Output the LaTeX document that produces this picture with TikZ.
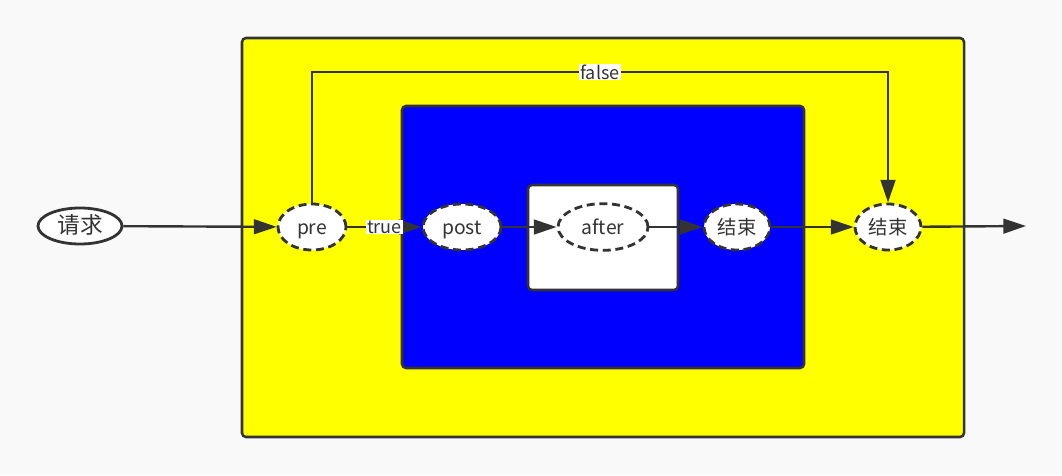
\documentclass[tikz,border=0pt]{standalone}
\usepackage{fontspec}
\setmainfont{Noto Sans CJK SC}
\usetikzlibrary{arrows.meta,shapes.geometric}
\definecolor{ink}{HTML}{333333}
\definecolor{bg}{HTML}{F9F9F9}
\definecolor{ylw}{HTML}{FFFF00}
\definecolor{blu}{HTML}{0000FF}
\tikzset{
  box/.style={draw=ink, line width=1.9pt, rounded corners=3pt, inner sep=0pt},
  ov/.style={ellipse, draw=ink, line width=2.1pt, fill=white, inner sep=0pt, text=ink, font=\fontsize{14.5}{16}\selectfont, text height=2.4ex, text depth=0.4ex},
  dov/.style={ov, dash pattern=on 6pt off 3.5pt},
  edge/.style={draw=ink, line width=1.8pt, -{Triangle[length=17pt,width=11pt]}},
  lbl/.style={fill=white, inner sep=0.8pt, text=ink, font=\fontsize{13.5}{15}\selectfont},
}
\begin{document}
\begin{tikzpicture}[x=0.75pt,y=-0.75pt]
\useasboundingbox (0,0) rectangle (1062,475);
\fill[bg] (0,0) rectangle (1062,475);
\node[box, fill=ylw, minimum width=541.5pt, minimum height=299.25pt] (outer) at (603,237.5) {};
\node[box, fill=blu, minimum width=301.5pt, minimum height=196.5pt] (inner) at (603,237) {};
\node[box, fill=white, minimum width=112.5pt, minimum height=78.75pt] (core) at (603,237.5) {};
\node[ov, minimum width=63pt, minimum height=27pt, font=\fontsize{17}{18}\selectfont] (req) at (80,226) {请求};
\node[dov, minimum width=51pt, minimum height=34.5pt] (pre) at (312,227) {pre};
\node[dov, minimum width=58.5pt, minimum height=34.5pt] (post) at (462,227) {post};
\node[dov, minimum width=67.5pt, minimum height=35pt] (after) at (603,227) {after};
\node[dov, minimum width=49.5pt, minimum height=34.5pt] (end1) at (737,227) {结束};
\node[dov, minimum width=49.5pt, minimum height=34.5pt] (end2) at (888,227) {结束};
\coordinate (out) at (1026,226);
\draw[edge] (req) -- (pre);
\draw[edge] (pre) -- node[lbl] {true} (post);
\draw[edge] (post) -- (after);
\draw[edge] (after) -- (end1);
\draw[edge] (end1) -- (end2);
\draw[edge] (end2) -- (out);
\draw[edge] (pre.north) -- (pre.north |- 0,72) -- node[lbl] {false} (end2.north |- 0,72) -- (end2.north);
\end{tikzpicture}
\end{document}
